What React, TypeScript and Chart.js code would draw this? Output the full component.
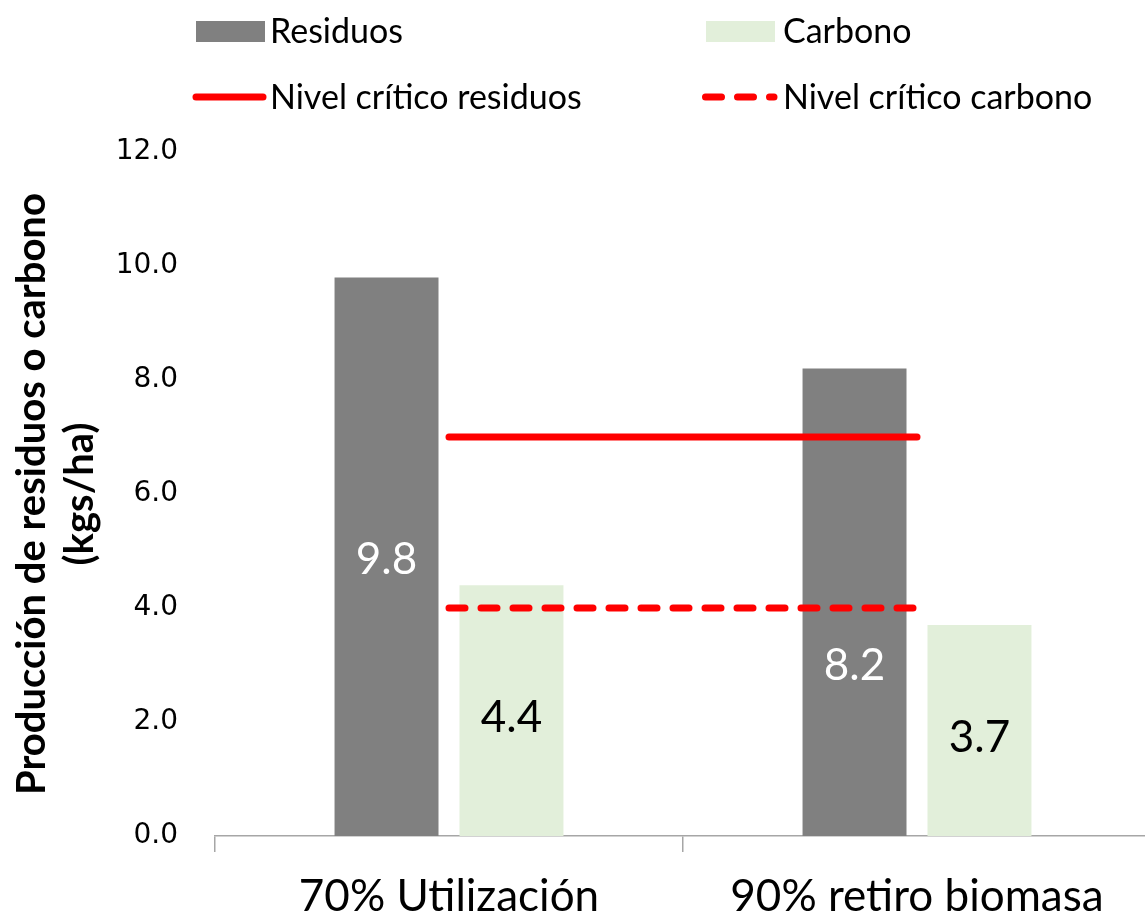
import React, { useEffect, useRef } from "react";
import { Chart, registerables } from "chart.js";

Chart.register(...registerables);

const categories = ["70% Utilización", "90% retiro biomasa"];
const residuos = [9.8, 8.2];
const carbono = [4.4, 3.7];
const nivelResiduos = [7.0, 7.0];
const nivelCarbono = [4.0, 4.0];
// value-axis height at which each bar's number label sits
const residuosLabelAt = [4.85, 2.98];
const carbonoLabelAt = [2.08, 1.72];
const yTicks = [0, 2, 4, 6, 8, 10, 12];

const GRAY = "#808080";
const GREEN = "#e2efda";
const RED = "#ff0000";
const FONT = "Lato, 'Open Sans', sans-serif";

const labelPlugin = {
  id: "barLabels",
  afterDatasetsDraw(chart: any) {
    const { ctx } = chart;
    const y = chart.scales.y;
    ctx.save();
    ctx.font = `44px ${FONT}`;
    ctx.textAlign = "center";
    ctx.textBaseline = "middle";
    const draw = (dsIndex: number, values: number[], at: number[], color: string) => {
      const meta = chart.getDatasetMeta(dsIndex);
      meta.data.forEach((el: any, i: number) => {
        ctx.fillStyle = color;
        ctx.fillText(values[i].toFixed(1), el.x, y.getPixelForValue(at[i]));
      });
    };
    draw(0, residuos, residuosLabelAt, "#ffffff");
    draw(1, carbono, carbonoLabelAt, "#000000");
    ctx.restore();
  },
};

const legendPlugin = {
  id: "customLegend",
  afterDraw(chart: any) {
    const { ctx } = chart;
    const ds = chart.data.datasets;
    ctx.save();
    ctx.font = `34px ${FONT}`;
    ctx.textBaseline = "alphabetic";
    ctx.textAlign = "left";
    // row 1: boxes
    ctx.fillStyle = ds[0].backgroundColor;
    ctx.fillRect(196, 21, 69, 21);
    ctx.fillStyle = ds[1].backgroundColor;
    ctx.fillRect(706, 21, 69, 21);
    ctx.fillStyle = "#000";
    ctx.fillText(ds[0].label, 270, 43);
    ctx.fillText(ds[1].label, 783, 43);
    // row 2: lines
    ctx.strokeStyle = RED;
    ctx.lineWidth = 7;
    ctx.lineCap = "round";
    ctx.beginPath();
    ctx.moveTo(196, 97);
    ctx.lineTo(263, 97);
    ctx.stroke();
    ctx.setLineDash([16, 16]);
    ctx.beginPath();
    ctx.moveTo(705.5, 97);
    ctx.lineTo(774, 97);
    ctx.stroke();
    ctx.setLineDash([]);
    ctx.fillText(ds[2].label, 270, 109);
    ctx.fillText(ds[3].label, 783, 109);
    ctx.restore();
  },
};

export default function App() {
  const ref = useRef<HTMLCanvasElement | null>(null);

  useEffect(() => {
    if (!ref.current) return;
    const chart = new Chart(ref.current, {
      type: "bar",
      data: {
        labels: categories,
        datasets: [
          {
            type: "bar",
            label: "Residuos",
            data: residuos,
            backgroundColor: GRAY,
            order: 1,
            categoryPercentage: 0.534,
            barPercentage: 0.832,
          } as any,
          {
            type: "bar",
            label: "Carbono",
            data: carbono,
            backgroundColor: GREEN,
            order: 1,
            categoryPercentage: 0.534,
            barPercentage: 0.832,
          } as any,
          {
            type: "line",
            label: "Nivel crítico residuos",
            data: nivelResiduos,
            borderColor: RED,
            backgroundColor: RED,
            borderWidth: 7,
            borderCapStyle: "round",
            pointRadius: 0,
            order: 0,
          } as any,
          {
            type: "line",
            label: "Nivel crítico carbono",
            data: nivelCarbono,
            borderColor: RED,
            backgroundColor: RED,
            borderWidth: 7,
            borderDash: [16, 16],
            borderCapStyle: "round",
            pointRadius: 0,
            order: 0,
          } as any,
        ],
      },
      options: {
        animation: false,
        responsive: false,
        devicePixelRatio: 1,
        layout: { padding: { top: 152, right: 9, left: 0, bottom: 0 } },
        plugins: {
          legend: { display: false },
          tooltip: { enabled: false },
        },
        scales: {
          x: {
            grid: {
              display: true,
              drawOnChartArea: false,
              drawTicks: true,
              tickLength: 16,
              color: "#a6a6a6",
              lineWidth: 1.5,
              offset: true,
            },
            border: { display: true, color: "#a6a6a6", width: 1.5 },
            ticks: {
              font: { family: FONT, size: 44 },
              color: "#000",
              padding: 18,
              maxRotation: 0,
            },
            afterFit: (s: any) => {
              s.height = 80;
            },
          },
          y: {
            min: 0,
            max: 12,
            afterBuildTicks: (s: any) => {
              s.ticks = yTicks.map((v) => ({ value: v }));
            },
            grid: { display: false, drawTicks: false },
            border: { display: false },
            ticks: {
              font: { family: "'DejaVu Sans', sans-serif", size: 28 },
              color: "#000",
              padding: 37,
              callback: (v: any) => Number(v).toFixed(1),
            },
            title: {
              display: true,
              text: ["Producción de residuos o carbono", "(kgs/ha)"],
              font: { family: FONT, size: 40, weight: "bold", lineHeight: 1.2 },
              color: "#000",
              padding: { top: 8, bottom: 0 },
            },
            afterFit: (s: any) => {
              s.width = 215;
            },
          },
        },
      },
      plugins: [labelPlugin, legendPlugin],
    });
    return () => chart.destroy();
  }, []);

  return (
    <div
      style={{
        position: "fixed",
        left: 0,
        top: 0,
        width: 1145,
        height: 916,
        overflow: "hidden",
        background: "#fff",
      }}
    >
      <canvas ref={ref} width={1160} height={916} style={{ width: 1160, height: 916, display: "block" }} />
    </div>
  );
}
